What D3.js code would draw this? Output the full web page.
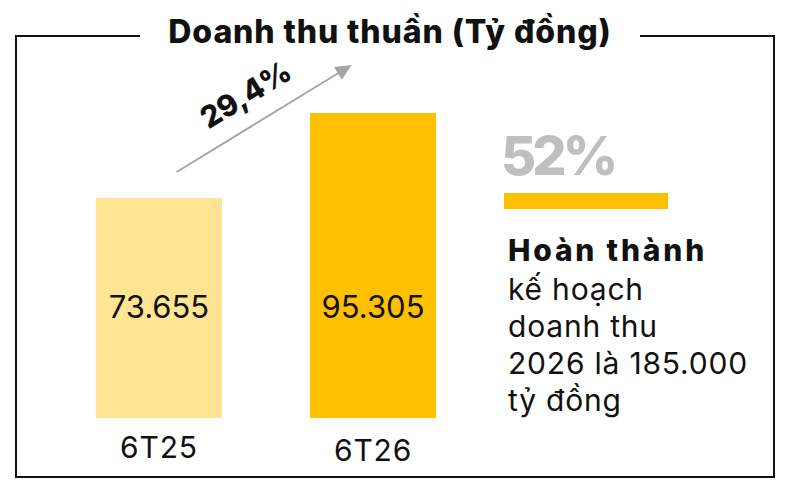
<!DOCTYPE html>
<html>
<head>
<meta charset="utf-8">
<script src="https://cdnjs.cloudflare.com/ajax/libs/d3/7.8.5/d3.min.js"></script>
<style>
  body { margin: 0; background: #fff; }
  text { font-family: "Inter", "DejaVu Sans", sans-serif; }
</style>
</head>
<body>
<svg width="796" height="486"></svg>
<script>
var title = "Doanh thu thuần (Tỷ đồng)";
var categories = ["6T25", "6T26"];
var values = [73655, 95305];
var barColors = ["#FFE493", "#FFC000"];
var growth = [29.4];
var planDone = [52];
var noteLines = ["kế hoạch", "doanh thu", "2026 là 185.000", "tỷ đồng"];

var svg = d3.select("svg"),
    width = +svg.attr("width"),
    height = +svg.attr("height");

var vn = d3.formatLocale({decimal: ",", thousands: ".", grouping: [3], currency: ["", ""]});
var fmt = vn.format(",d"),
    fmtPct = vn.format(",.1f");

var x = d3.scaleBand()
    .domain(categories)
    .range([52, 480])
    .paddingInner(0.411)
    .paddingOuter(0.205);

var y = d3.scaleLinear()
    .domain([17620, 95305])
    .range([418, 113]);

// frame with a gap for the title
var frame = svg.append("g")
    .attr("fill", "none")
    .attr("stroke", "#111")
    .attr("stroke-width", 2);

frame.append("path")
    .attr("d", "M140,36 H16 V477 H774 V36 H640");

svg.append("text")
    .attr("x", 390)
    .attr("y", 43)
    .attr("text-anchor", "middle")
    .attr("font-size", 32)
    .attr("font-weight", 800)
    .attr("letter-spacing", 0.9)
    .attr("fill", "#111")
    .text(title);

// bars
var bars = svg.append("g").selectAll("g")
    .data(categories)
  .enter().append("g");

bars.append("rect")
    .attr("x", function(d) { return x(d); })
    .attr("y", function(d, i) { return y(values[i]); })
    .attr("width", x.bandwidth())
    .attr("height", function(d, i) { return y.range()[0] - y(values[i]); })
    .attr("fill", function(d, i) { return barColors[i]; });

bars.append("text")
    .attr("x", function(d) { return x(d) + x.bandwidth() / 2; })
    .attr("y", 318)
    .attr("text-anchor", "middle")
    .attr("font-size", 31)
    .attr("fill", "#111")
    .text(function(d, i) { return fmt(values[i]); });

bars.append("text")
    .attr("x", function(d) { return x(d) + x.bandwidth() / 2; })
    .attr("y", function(d, i) { return 458 + i * 3; })
    .attr("text-anchor", "middle")
    .attr("font-size", 30)
    .attr("letter-spacing", 0.8)
    .attr("fill", "#111")
    .text(function(d) { return d; });

// growth arrow
var x0 = x(categories[0]) + x.bandwidth() * 0.64,
    y0 = y(values[0]) - 26,
    x1 = x(categories[1]) + x.bandwidth() * 0.33,
    y1 = y(values[1]) - 48;
var ang = Math.atan2(y1 - y0, x1 - x0);

svg.append("line")
    .attr("x1", x0).attr("y1", y0)
    .attr("x2", x1 - 12 * Math.cos(ang)).attr("y2", y1 - 12 * Math.sin(ang))
    .attr("stroke", "#a6a6a6")
    .attr("stroke-width", 2);

svg.append("path")
    .attr("transform", "translate(" + x1 + "," + y1 + ") rotate(" + (ang * 180 / Math.PI) + ")")
    .attr("d", "M0,0 L-16,-7.5 L-16,7.5 Z")
    .attr("fill", "#a6a6a6");

var mx = (x0 + x1) / 2 - 13, my = (y0 + y1) / 2 - 15;
svg.append("text")
    .attr("transform", "translate(" + mx + "," + my + ") rotate(" + (ang * 180 / Math.PI) + ")")
    .attr("text-anchor", "middle")
    .attr("font-size", 30)
    .attr("font-weight", 800)
    .attr("fill", "#111")
    .text(fmtPct(growth[0]) + "%");

// plan completion
svg.append("text")
    .attr("x", 501)
    .attr("y", 175)
    .attr("font-size", 54)
    .attr("font-weight", 800)
    .attr("letter-spacing", -4)
    .attr("fill", "#bfbfbf")
    .text(planDone[0] + "%");

svg.append("rect")
    .attr("x", 504)
    .attr("y", 193)
    .attr("width", 164)
    .attr("height", 16)
    .attr("fill", "#FFC000");

var note = svg.append("text")
    .attr("x", 508)
    .attr("font-size", 30)
    .attr("fill", "#111");

note.append("tspan")
    .attr("x", 508)
    .attr("y", 261)
    .attr("font-weight", 800)
    .attr("letter-spacing", 2.8)
    .text("Hoàn thành");

note.selectAll("tspan.line")
    .data(noteLines)
  .enter().append("tspan")
    .attr("class", "line")
    .attr("x", 508)
    .attr("y", function(d, i) { return 300 + i * 37; })
    .attr("letter-spacing", 0.8)
    .text(function(d) { return d; });
</script>
</body>
</html>
